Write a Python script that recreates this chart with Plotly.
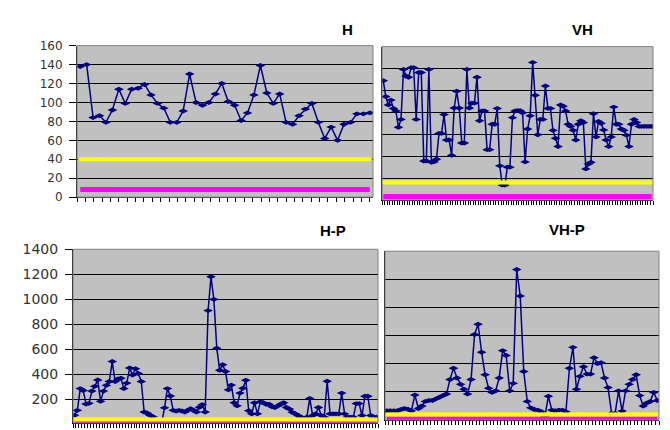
import plotly.graph_objects as go

# ---------------- data ----------------
h_values = [138, 140, 84, 86, 79, 92, 114, 99, 114, 115, 119, 108, 99, 94, 79, 79, 91,
            130, 100, 97, 100, 109, 120, 101, 97, 81, 89, 108, 139, 110, 99, 109, 79, 77,
            86, 93, 99, 79, 62, 74, 60, 77, 79, 88, 88, 89]

vh_values = [272, 236, 217, 228, 209, 203, 166, 184, 298, 283, 280, 302, 302, 184, 291, 291,
             89, 89, 298, 86, 87, 93, 152, 152, 195, 137, 137, 102, 210, 248, 210, 130, 130,
             298, 210, 221, 221, 280, 181, 203, 203, 115, 115, 173, 173, 209, 78, 34, 34, 75,
             75, 188, 203, 204, 204, 199, 87, 162, 192, 314, 239, 149, 184, 184, 260, 209, 209,
             159, 141, 122, 217, 214, 203, 173, 168, 159, 137, 173, 181, 177, 71, 82, 86, 197,
             144, 179, 175, 160, 137, 122, 144, 212, 173, 173, 162, 159, 148, 122, 173, 184,
             177, 168, 168, 168, 168, 168, 168]

hp_values = [74, 113, 287, 272, 164, 169, 267, 305, 356, 185, 267, 313, 344, 503, 344, 364,
             369, 287, 331, 451, 395, 446, 408, 344, 100, 92, 74, 62, 10, 10, 10, 133, 287,
             228, 113, 108, 113, 108, 100, 113, 126, 113, 100, 138, 159, 100, 910, 1180, 1000,
             610, 433, 477, 423, 277, 315, 174, 149, 251, 290, 354, 110, 85, 174, 85, 182, 174,
             162, 162, 141, 136, 149, 162, 174, 136, 123, 97, 85, 72, 59, 46, 59, 208, 72, 85,
             136, 72, 59, 346, 85, 85, 85, 85, 251, 85, 59, 59, 59, 167, 167, 72, 226, 226, 72,
             59, 59]

vhp_values = [66, 66, 66, 66, 75, 82, 78, 66, 178, 82, 100, 133, 139, 139, 151, 162, 174, 185,
              288, 368, 299, 254, 219, 185, 288, 608, 681, 482, 322, 226, 197, 208, 299, 494,
              459, 208, 261, 1070, 882, 345, 133, 87, 75, 71, 59, 25, 169, 71, 66, 71, 71, 59,
              368, 517, 219, 311, 379, 327, 327, 443, 402, 407, 299, 231, 48, 48, 208, 64, 208,
              254, 288, 322, 174, 100, 121, 133, 197, 139]

panel_titles = ["H", "VH", "H-P", "VH-P"]
yellow_level = 40
magenta_level = 8

# ---------------- layout helpers ----------------
W, H = 670, 430
def dx(a, b):
    return [a / W, b / W]
def dy(top, bottom):
    return [max(0, 1 - bottom / H), 1 - top / H]

NAVY = "#000080"
panels = [
    dict(vals=h_values, xd=(77, 373), yd=(39, 196), yr=[0, 160], dt=20, lab=True, fs=12, xdt=1.3),
    dict(vals=vh_values, xd=(382, 653), yd=(40, 199), yr=[0, 350], dt=50, lab=False, fs=12, xdt=1),
    dict(vals=hp_values, xd=(73, 378), yd=(250, 430), yr=[12, 1400], dt=200, lab=True, fs=14, xdt=1),
    dict(vals=vhp_values, xd=(385, 659), yd=(252, 427), yr=[0, 1200], dt=200, lab=False, fs=12, xdt=1),
]

fig = go.Figure()
layout = dict(width=W, height=H, margin=dict(l=0, r=0, t=0, b=0),
              paper_bgcolor="white", plot_bgcolor="#C0C0C0", showlegend=False,
              shapes=[], annotations=[])

for i, p in enumerate(panels):
    k = "" if i == 0 else str(i + 1)
    xref, yref = "x" + k, "y" + k
    n = len(p["vals"])
    xs = list(range(n))
    fig.add_trace(go.Scatter(x=xs, y=p["vals"], mode="lines+markers", xaxis=xref, yaxis=yref,
                             line=dict(color=NAVY, width=1.5),
                             marker=dict(symbol="diamond-wide", size=7, color=NAVY)))
    fig.add_trace(go.Scatter(x=xs, y=[magenta_level] * n, mode="lines", xaxis=xref, yaxis=yref,
                             line=dict(color="#FF00FF", width=5)))
    fig.add_trace(go.Scatter(x=xs, y=[yellow_level] * n, mode="lines+markers", xaxis=xref, yaxis=yref,
                             line=dict(color="#FFFF00", width=4),
                             marker=dict(symbol="triangle-up", size=5, color="#FFFF00")))
    layout["xaxis" + k] = dict(domain=dx(*p["xd"]), range=[-0.5, n - 0.5], anchor=yref,
                               showgrid=False, zeroline=False, showticklabels=False,
                               ticks="outside", ticklen=4, tickcolor="black", tickwidth=1,
                               tickmode="linear", tick0=-0.5, dtick=p["xdt"],
                               showline=True, linecolor="black", linewidth=1)
    layout["yaxis" + k] = dict(domain=dy(*p["yd"]), range=p["yr"], anchor=xref,
                               tickmode="linear", tick0=0, dtick=p["dt"],
                               showgrid=True, gridcolor="black", gridwidth=1, zeroline=False,
                               showticklabels=p["lab"], ticks="outside" if p["lab"] else "",
                               ticklen=7, tickcolor="black", ticklabelstandoff=4,
                               tickfont=dict(family="DejaVu Sans", size=p["fs"], color="#333333"),
                               showline=True, linecolor="black", linewidth=1)
    layout["shapes"].append(dict(type="rect", xref=xref + " domain", yref=yref + " domain",
                                 x0=0, x1=1, y0=0, y1=1, line=dict(color="#808080", width=1),
                                 layer="above"))

title_pos = [(347, 22), (582, 22), (333, 231), (567, 229)]
for t, (tx, ty) in zip(panel_titles, title_pos):
    layout["annotations"].append(dict(text="<b>" + t + "</b>", x=tx / W, y=1 - ty / H,
                                      xref="paper", yref="paper", showarrow=False,
                                      xanchor="center", yanchor="middle",
                                      font=dict(family="Liberation Sans", size=15, color="black")))

fig.update_layout(**layout)
fig.write_html("out.html", config={"displayModeBar": False},
               post_script="document.body.style.margin='0px';document.body.style.overflow='hidden';")
